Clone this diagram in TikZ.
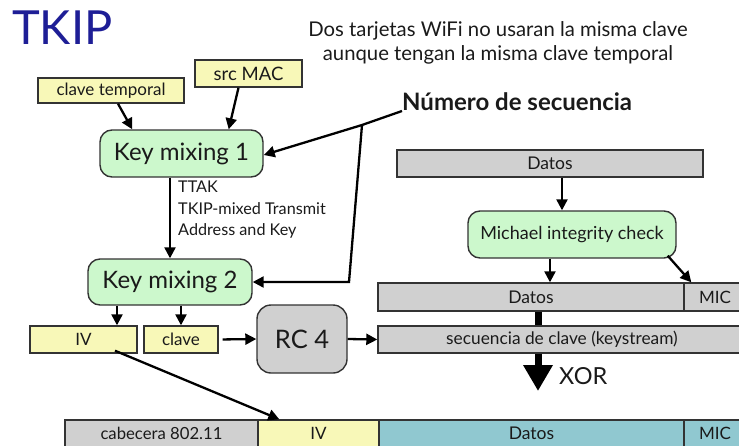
\documentclass[tikz,border=0pt]{standalone}
\usepackage{fontspec}
\setmainfont{Lato}
\usetikzlibrary{arrows.meta}

\definecolor{yelf}{HTML}{F8F8B8}
\definecolor{grnf}{HTML}{CCF8CC}
\definecolor{gryf}{HTML}{D0D0D0}
\definecolor{tealf}{HTML}{90C8D0}
\definecolor{titleblue}{HTML}{1E1E96}
\definecolor{ink}{HTML}{1A1A1A}
\definecolor{edge}{HTML}{333333}

\tikzset{
  blk/.style={draw=edge, line width=1.4pt, inner sep=0pt, text=ink, align=center},
  ybox/.style={blk, fill=yelf},
  gbox/.style={blk, fill=gryf},
  tbox/.style={blk, fill=tealf},
  mixbox/.style={blk, fill=grnf, rounded corners=12pt},
  arr/.style={draw=black, line width=2.3pt, -{Triangle[length=11pt,width=11pt]}},
  plain/.style={draw=black, line width=2.3pt},
  fs/.style={font=\fontsize{#1}{#1}\selectfont}
}

\begin{document}
\begin{tikzpicture}[x=1pt,y=-1pt]
\useasboundingbox (0,0) rectangle (739,445);

% title and remark
\node[anchor=west, inner sep=0pt, text=titleblue, fs=47] (title) at (12,28) {TKIP};
\node[text=ink, fs=20.3, align=center] (note) at (498,43)
  {Dos tarjetas WiFi no usaran la misma clave\\[3pt]aunque tengan la misma clave temporal};

% key mixing stage
\node[ybox, fs=17, minimum width=146pt, minimum height=25pt] (ctemp) at (111,90.5) {clave temporal};
\node[ybox, fs=18.5, minimum width=107pt, minimum height=27pt] (src) at (248.5,73.5) {src MAC};
\node[mixbox, fs=24, minimum width=163pt, minimum height=47pt] (km1) at (181.5,153.5) {Key mixing 1};
\node[mixbox, fs=24, minimum width=164pt, minimum height=46pt] (km2) at (170,282) {Key mixing 2};
\node[anchor=south west, inner sep=0pt, text=ink, font=\bfseries\fontsize{24}{24}\selectfont] (nseq) at (402,111) {Número de secuencia};

\node[anchor=north west, inner sep=0pt, text=ink, align=left, font=\fontsize{16.2}{21.5}\selectfont] (ttak) at (178,181)
  {TTAK\\TKIP-mixed Transmit\\Address and Key};

\node[ybox, fs=17, minimum width=107pt, minimum height=27pt] (iv) at (83.5,339.5) {IV};
\node[ybox, fs=17, minimum width=74pt, minimum height=27pt] (clave) at (181,339.5) {clave};
\node[gbox, fs=25.5, minimum width=90pt, minimum height=68pt, rounded corners=14pt] (rc4) at (302,339) {RC 4};

% integrity and keystream stage
\node[gbox, fs=17.5, minimum width=306pt, minimum height=27pt] (datos1) at (550,163.5) {Datos};
\node[mixbox, fs=18, minimum width=208pt, minimum height=47pt] (mich) at (572,234.5) {Michael integrity check};
\node[gbox, fs=17.5, minimum width=306pt, minimum height=28pt] (datos2) at (531,297) {Datos};
\node[gbox, fs=17, minimum width=62pt, minimum height=28pt] (mic2) at (715,297) {MIC};
\node[gbox, fs=17.3, minimum width=368pt, minimum height=27pt] (ks) at (562,339.5) {secuencia de clave (keystream)};
\node[anchor=west, inner sep=0pt, text=ink, fs=23.5] (xor) at (559,376) {XOR};

% transmitted frame
\node[gbox, fs=16.7, minimum width=193pt, minimum height=27pt] (hdr) at (161.5,433.5) {cabecera 802.11};
\node[ybox, fs=17, minimum width=121pt, minimum height=27pt] (biv) at (318.5,433.5) {IV};
\node[tbox, fs=17.5, minimum width=305pt, minimum height=27pt] (bdat) at (531.5,433.5) {Datos};
\node[tbox, fs=17, minimum width=62pt, minimum height=27pt] (bmic) at (715,433.5) {MIC};

% connectors
\coordinate (j) at (362,125);
\coordinate (c2) at (349,282);

\draw[arr] ([xshift=7pt]ctemp.south) -- ([xshift=33pt]km1.north west);
\draw[arr] ([xshift=-10pt]src.south) -- ([xshift=-35pt]km1.north east);
\draw[arr] (km2.north |- km1.south) -- (km2.north);
\draw[plain] (nseq.south west) -- (j);
\draw[arr] (j) -- ([yshift=-1.5pt]km1.east);
\draw[arr] (j) -- (c2) -- (km2.east);

\draw[arr] ([xshift=-53pt]km2.south) -- ([xshift=33.5pt]iv.north);
\draw[arr] ([xshift=11pt]km2.south) -- (clave.north);
\draw[arr, shorten <=4pt] (clave.east) -- (rc4.west);
\draw[arr] (rc4.east) -- (ks.west);
\draw[arr] ([xshift=31.5pt, yshift=3pt]iv.south) -- ([xshift=22pt]biv.north west);

\draw[arr] (datos1.south -| 562,0) -- (mich.north -| 562,0);
\draw[arr] (mich.south -| 550,0) -- (datos2.north -| 550,0);
\draw[arr] ([xshift=-9pt, yshift=3pt]mich.south east) -- ([xshift=8pt]mic2.north west);
\draw[draw=black, line width=7pt] (datos2.south -| 538,0) -- (ks.north -| 538,0);
\coordinate (xtip) at (538,391);
\draw[draw=black, line width=7pt, -{Triangle[length=26pt,width=28pt]}] (ks.south -| 538,0) -- (xtip);
\end{tikzpicture}
\end{document}
